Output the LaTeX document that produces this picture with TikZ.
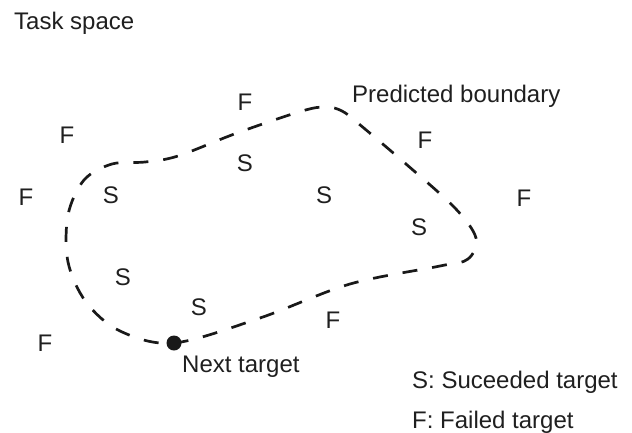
\documentclass[tikz,border=0pt]{standalone}
\usepackage{fontspec}
\setmainfont{Liberation Sans}
\begin{document}
\begin{tikzpicture}[x=1pt,y=-1pt,
  lbl/.style={inner sep=0pt,font=\fontsize{24}{28}\selectfont,text=black!88},
  txt/.style={lbl,anchor=base west},
  boundary/.style={draw=black!90,line width=2.7pt,dash pattern=on 15pt off 15pt},
  dotstyle/.style={circle,fill=black!90,inner sep=0pt,minimum size=15pt}]
\useasboundingbox (0,0) rectangle (632,432);
% boundary
\draw[boundary] plot[smooth cycle,tension=0.55] coordinates {
  (174,343) (260,318) (350,284) (440,266) (468,259) (476,238)
  (455,208) (406,164) (359,124) (342,111) (326,107) (302,111) (237,133)
  (178,156) (145,162) (112,164) (84,180) (68,215) (68,262)
  (86,302) (120,331)};
\node[dotstyle] (next) at (174,343) {};
% labels
\node[txt] (title) at (14,29) {Task space};
\node[txt] (pred) at (352,102.5) {Predicted boundary};
\node[txt] (nextlbl) at (182,372) {Next target};
\node[txt] (legS) at (412,388) {S: Suceeded target};
\node[txt] (legF) at (412,428) {F: Failed target};
% S and F markers
\node[lbl] (f1) at (245,102) {F};
\node[lbl] (f2) at (67,135) {F};
\node[lbl] (f3) at (26,197) {F};
\node[lbl] (f4) at (425,140) {F};
\node[lbl] (f5) at (524,198) {F};
\node[lbl] (f6) at (333,320) {F};
\node[lbl] (f7) at (45,343) {F};
\node[lbl] (s1) at (245,163) {S};
\node[lbl] (s2) at (111,195) {S};
\node[lbl] (s3) at (324,195) {S};
\node[lbl] (s4) at (419,227) {S};
\node[lbl] (s5) at (123,277) {S};
\node[lbl] (s6) at (199,307) {S};
\end{tikzpicture}
\end{document}
